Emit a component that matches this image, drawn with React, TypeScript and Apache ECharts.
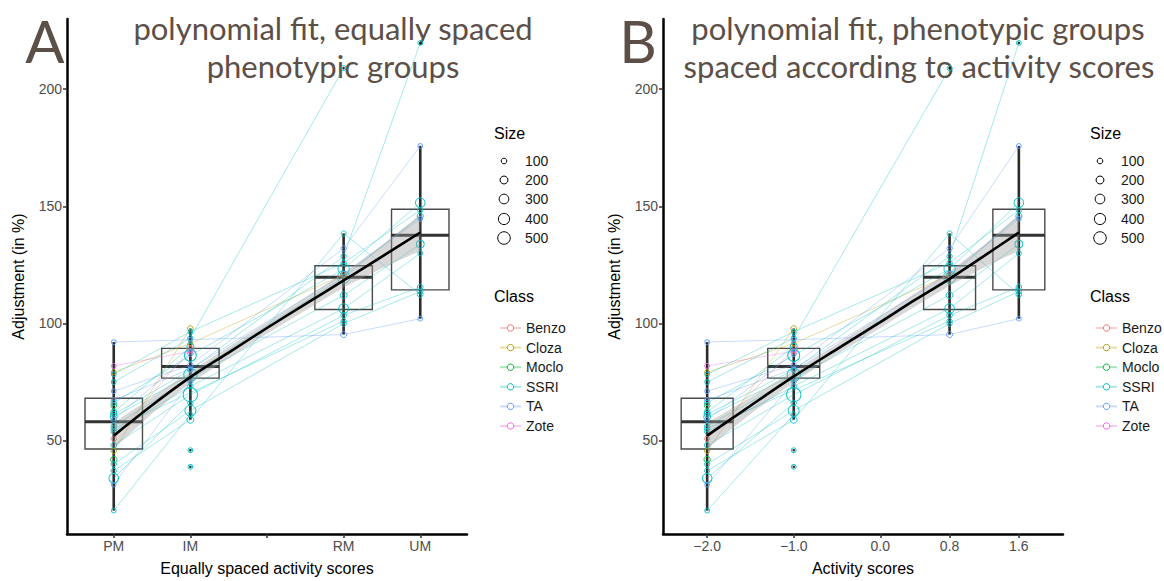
import React, { useEffect, useRef } from 'react';
import * as echarts from 'echarts';

// ---------- axes / categories ----------
const phenotypes = ['PM', 'IM', 'RM', 'UM'];
const xEqual = [-2, -1, 1, 2];
const xActivity = [-2, -1, 0.8, 1.6];
const tickEqual = [-2, -1, 0, 1, 2];
const tickEqualLabels = ['PM', 'IM', '', 'RM', 'UM'];
const tickActivity = [-2, -1, 0, 0.8, 1.6];
const tickActivityLabels = ['\u22122.0', '\u22121.0', '0.0', '0.8', '1.6'];
const yTicks = [50, 100, 150, 200];

// ---------- classes ----------
const classes = ['Benzo', 'Cloza', 'Moclo', 'SSRI', 'TA', 'Zote'];
const classColors = ['#F8766D', '#B79F00', '#00BA38', '#00BFC4', '#619CFF', '#F564E3'];

// ---------- drugs: class, adjustment per phenotype (PM, IM, RM, UM), size ----------
const drugClass = [
  'TA', 'Zote', 'Cloza', 'SSRI', 'SSRI', 'TA', 'TA', 'SSRI', 'Moclo', 'SSRI',
  'SSRI', 'TA', 'SSRI', 'SSRI', 'Benzo', 'SSRI', 'Cloza', 'Moclo', 'SSRI', 'SSRI',
  'SSRI', 'TA', 'SSRI', 'SSRI', 'SSRI', 'SSRI', 'SSRI',
];
const drugValues: (number | null)[][] = [
  [92, 93, 95.2, 102],
  [81.8, 88, null, null],
  [79.1, 91.4, 120.7, null],
  [78.2, 96.4, 125.8, 148.3],
  [74.9, 93.7, 209, null],
  [71, 82.2, 132, 175.8],
  [67.2, 80.5, 121, 144.7],
  [66, 86.3, 123.2, 151.5],
  [64.8, null, null, null],
  [61.1, 80.1, 128.6, 219.8],
  [60, 78, 119.7, 145.8],
  [58.8, 87, null, null],
  [56.1, 76.6, 112, 133.8],
  [53.7, 73.1, 106.3, 129.9],
  [50.7, 89, null, null],
  [47.9, 69.5, 103.4, 115.5],
  [45.5, 97.8, null, null],
  [41.8, null, null, null],
  [39.8, 62.7, 99.9, 113.6],
  [37, 58.8, 138.4, 112.3],
  [33.8, 66, null, null],
  [31.1, 75, null, null],
  [20, 61, null, null],
  [62, 90, null, null],
  [55, null, 101, null],
  [null, 45.8, null, null],
  [null, 38.7, null, null],
];
const drugSizes: (number | null)[][] = [
  [70, 70, 120, 70],
  [80, 90, null, null],
  [80, 80, 120, null],
  [70, 70, 90, 90],
  [70, 90, 80, null],
  [70, 90, 90, 70],
  [80, 80, 90, 70],
  [90, 450, 400, 300],
  [100, null, null, null],
  [120, 90, 90, 70],
  [150, 550, 480, 120],
  [90, 90, null, null],
  [90, 100, 150, 200],
  [90, 90, 300, 80],
  [90, 150, null, null],
  [100, 650, 100, 100],
  [90, 100, null, null],
  [130, null, null, null],
  [90, 380, 90, 90],
  [90, 150, 80, 100],
  [300, 90, null, null],
  [70, 80, null, null],
  [70, 80, null, null],
  [110, 160, null, null],
  [90, null, 90, null],
  [null, 70, null, null],
  [null, 70, null, null],
];

// ---------- boxplot statistics per phenotype ----------
const boxMin = [20, 58.8, 95.2, 102];
const boxQ1 = [46.3, 76.6, 105.9, 114.3];
const boxMedian = [57.9, 81.6, 119.7, 137.6];
const boxQ3 = [68, 89.3, 124.6, 148.7];
const boxMax = [92, 97.8, 138.4, 175.8];
const outlierPhenotype = [1, 1, 2, 3];
const outlierValues = [45.8, 38.7, 209, 219.8];

// ---------- polynomial fit ----------
const fitXEqual = [-2, -1.5, -1, -0.5, 0, 0.5, 1, 1.5, 2];
const fitYEqual = [52, 65, 77, 87.5, 98, 108.2, 118.3, 128.5, 138.8];
const fitLowEqual = [46.5, 61.5, 74.5, 85, 95.5, 105.5, 115.3, 123.5, 131];
const fitHighEqual = [57.5, 68.5, 79.5, 90, 100.5, 111, 121.3, 133.5, 146.5];

const fitXActivity = [-2, -1.5, -1, -0.5, 0, 0.4, 0.8, 1.2, 1.6];
const fitYActivity = [52, 64.8, 77.3, 89, 100.5, 110, 119, 128.8, 138.8];
const fitLowActivity = [46.5, 61.3, 74.8, 86.8, 98, 107.2, 116, 124, 131];
const fitHighActivity = [57.5, 68.3, 79.8, 91.2, 103, 112.8, 122, 133.6, 146.5];

// ---------- legend ----------
const sizeLegendValues = [100, 200, 300, 400, 500];

const FONT = "'Liberation Sans', Arial, sans-serif";
const TITLE_FONT = "Lato, 'Open Sans', sans-serif";
const TITLE_COLOR = '#5c4f48';

const sizeToDiameter = (s: number) => 0.56 * Math.sqrt(s);

function boxRenderer(half: number) {
  return (params: any, api: any) => {
    const x = api.value(0);
    const mn = api.value(1), q1 = api.value(2), md = api.value(3), q3 = api.value(4), mx = api.value(5);
    const pMin = api.coord([x, mn]);
    const pMax = api.coord([x, mx]);
    const pL1 = api.coord([x - half, q1]);
    const pR3 = api.coord([x + half, q3]);
    const pML = api.coord([x - half, md]);
    const pMR = api.coord([x + half, md]);
    return {
      type: 'group',
      children: [
        { type: 'line', shape: { x1: pMin[0], y1: pMin[1], x2: pMax[0], y2: pMax[1] }, style: { stroke: '#2b2b2b', lineWidth: 2.6 } },
        { type: 'rect', shape: { x: pL1[0], y: pR3[1], width: pR3[0] - pL1[0], height: pL1[1] - pR3[1] }, style: { fill: 'none', stroke: '#4a4a4a', lineWidth: 1.4 } },
        { type: 'line', shape: { x1: pML[0], y1: pML[1], x2: pMR[0], y2: pMR[1] }, style: { stroke: '#333', lineWidth: 3 } },
      ],
    };
  };
}

function ribbonRenderer(fx: number[], lo: number[], hi: number[]) {
  return (params: any, api: any) => {
    if (params.dataIndex !== 0) return null;
    const top = fx.map((x, i) => api.coord([x, hi[i]]));
    const bottom = fx.map((x, i) => api.coord([x, lo[i]])).reverse();
    return { type: 'polygon', shape: { points: top.concat(bottom) }, style: { fill: 'rgba(153,153,153,0.38)' } };
  };
}

function panelSeries(gi: number, xs: number[], half: number, fx: number[], fy: number[], lo: number[], hi: number[]) {
  const out: any[] = [];
  out.push({
    type: 'custom', xAxisIndex: gi, yAxisIndex: gi, z: 1, silent: true,
    data: phenotypes.map((_, i) => [xs[i], boxMin[i], boxQ1[i], boxMedian[i], boxQ3[i], boxMax[i]]),
    encode: { x: 0, y: [1, 2, 3, 4, 5] },
    renderItem: boxRenderer(half),
  });
  drugValues.forEach((vals, d) => {
    const color = classColors[classes.indexOf(drugClass[d])];
    const pts: number[][] = [];
    vals.forEach((v, i) => { if (v != null) pts.push([xs[i], v]); });
    out.push({
      type: 'line', name: drugClass[d], xAxisIndex: gi, yAxisIndex: gi, z: 2, silent: true,
      data: pts, symbol: 'circle', showSymbol: false,
      lineStyle: { color, width: 1, opacity: 0.35 },
      itemStyle: { color, borderColor: color, borderWidth: 1 },
      emphasis: { disabled: true },
    });
  });
  classes.forEach((c, ci) => {
    const pts: number[][] = [];
    drugValues.forEach((vals, d) => {
      if (drugClass[d] !== c) return;
      vals.forEach((v, i) => { if (v != null) pts.push([xs[i], v, drugSizes[d][i] as number]); });
    });
    out.push({
      type: 'scatter', name: c, xAxisIndex: gi, yAxisIndex: gi, z: 3, silent: true,
      data: pts, symbol: 'circle',
      symbolSize: (val: number[]) => sizeToDiameter(val[2]),
      itemStyle: { color: 'rgba(0,0,0,0)', borderColor: classColors[ci], borderWidth: 1, opacity: 0.9 },
      emphasis: { disabled: true },
    });
  });
  out.push({
    type: 'custom', xAxisIndex: gi, yAxisIndex: gi, z: 4, silent: true,
    data: fx.map((x, i) => [x, lo[i], hi[i]]),
    encode: { x: 0, y: [1, 2] },
    renderItem: ribbonRenderer(fx, lo, hi),
  });
  out.push({
    type: 'line', xAxisIndex: gi, yAxisIndex: gi, z: 5, silent: true,
    data: fx.map((x, i) => [x, fy[i]]), symbol: 'none', smooth: 0.3,
    lineStyle: { color: '#000', width: 2.6 },
  });
  out.push({
    type: 'scatter', xAxisIndex: gi, yAxisIndex: gi, z: 6, silent: true,
    data: outlierPhenotype.map((pi, k) => [xs[pi], outlierValues[k]]),
    symbol: 'circle', symbolSize: 2.6, itemStyle: { color: '#000' },
  });
  return out;
}

function xAxisDef(gi: number, min: number, max: number, ticks: number[], labels: string[], name: string) {
  return {
    type: 'value', gridIndex: gi, min, max,
    name, nameLocation: 'middle', nameGap: 26,
    nameTextStyle: { fontFamily: FONT, fontSize: 16, color: '#000' },
    axisLine: { onZero: false, lineStyle: { color: '#000', width: 2.5 } },
    axisTick: { show: true, length: 4, customValues: ticks, lineStyle: { color: '#333', width: 1.5 } },
    axisLabel: {
      customValues: ticks, margin: 5, fontFamily: FONT, fontSize: 14, color: '#4d4d4d',
      formatter: (v: number) => {
        const idx = ticks.findIndex((t) => Math.abs(t - v) < 1e-6);
        return idx >= 0 ? labels[idx] : '';
      },
    },
    splitLine: { show: false },
  };
}

function yAxisDef(gi: number) {
  return {
    type: 'value', gridIndex: gi, min: 10, max: 230,
    name: 'Adjustment (in %)', nameLocation: 'middle', nameGap: 41, nameRotate: 90,
    nameTextStyle: { fontFamily: FONT, fontSize: 16, color: '#000' },
    axisLine: { onZero: false, lineStyle: { color: '#000', width: 2.5 } },
    axisTick: { show: true, length: 4, customValues: yTicks, lineStyle: { color: '#333', width: 1.5 } },
    axisLabel: { customValues: yTicks, margin: 5, fontFamily: FONT, fontSize: 14, color: '#4d4d4d' },
    splitLine: { show: false },
  };
}

function legendGraphics(dx: number) {
  const g: any[] = [];
  g.push({ type: 'text', x: 494 + dx, y: 133, style: { text: 'Size', fontFamily: FONT, fontSize: 16, fill: '#000', align: 'left', verticalAlign: 'middle' } });
  const rows = [161, 180, 199, 219, 238];
  sizeLegendValues.forEach((s, i) => {
    g.push({ type: 'circle', shape: { cx: 504 + dx, cy: rows[i], r: sizeToDiameter(s) / 2 }, style: { fill: 'none', stroke: '#000', lineWidth: 1 } });
    g.push({ type: 'text', x: 525 + dx, y: rows[i], style: { text: String(s), fontFamily: FONT, fontSize: 14, fill: '#1a1a1a', align: 'left', verticalAlign: 'middle' } });
  });
  g.push({ type: 'text', x: 494 + dx, y: 296, style: { text: 'Class', fontFamily: FONT, fontSize: 16, fill: '#000', align: 'left', verticalAlign: 'middle' } });
  return g;
}

function titleGraphics() {
  const st = (text: string, x: number, y: number, size: number) => ({
    type: 'text', x, y,
    style: { text, fontFamily: TITLE_FONT, fontSize: size, fill: TITLE_COLOR, align: 'center', verticalAlign: 'middle' },
  });
  return [
    st('A', 45, 40, 58),
    st('B', 638, 40, 58),
    st('polynomial fit, equally spaced', 333, 28, 31),
    st('phenotypic groups', 333, 66, 31),
    st('polynomial fit, phenotypic groups', 918, 28, 31),
    st('spaced according to activity scores', 919, 66, 31),
  ];
}

function classLegend(left: number) {
  return {
    show: true, orient: 'vertical', left, top: 316, itemWidth: 21, itemHeight: 8, itemGap: 5.6,
    selectedMode: false, data: classes,
    textStyle: { fontFamily: FONT, fontSize: 14, color: '#1a1a1a', lineHeight: 14 },
    itemStyle: { color: '#ffffff', borderWidth: 1 },
  };
}

function buildOption() {
  return {
    animation: false,
    backgroundColor: '#ffffff',
    grid: [
      { left: 67, top: 19, width: 400, height: 519 },
      { left: 663, top: 19, width: 400, height: 519 },
    ],
    xAxis: [
      xAxisDef(0, -2.61, 2.61, tickEqual, tickEqualLabels, 'Equally spaced activity scores'),
      xAxisDef(1, -2.51, 2.11, tickActivity, tickActivityLabels, 'Activity scores'),
    ],
    yAxis: [yAxisDef(0), yAxisDef(1)],
    legend: [classLegend(494), classLegend(1090)],
    series: [
      ...panelSeries(0, xEqual, 0.375, fitXEqual, fitYEqual, fitLowEqual, fitHighEqual),
      ...panelSeries(1, xActivity, 0.3, fitXActivity, fitYActivity, fitLowActivity, fitHighActivity),
    ],
    graphic: [...titleGraphics(), ...legendGraphics(0), ...legendGraphics(596)],
  };
}

export default function App() {
  const ref = useRef<HTMLDivElement>(null);
  useEffect(() => {
    document.body.style.margin = '0';
    const chart = echarts.init(ref.current as HTMLDivElement, null, { renderer: 'svg' });
    chart.setOption(buildOption() as any);
    return () => chart.dispose();
  }, []);
  return <div ref={ref} style={{ width: 1164, height: 581 }} />;
}
